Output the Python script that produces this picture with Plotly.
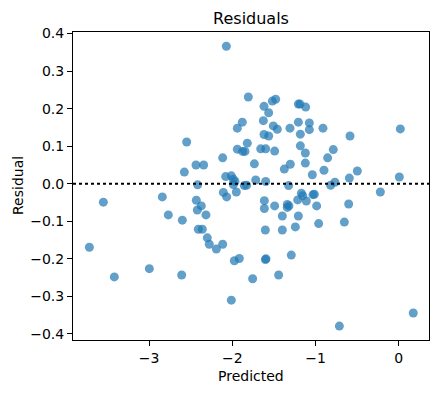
import plotly.graph_objects as go

predicted = [
    -2.072, -1.808, -1.619, -1.519, -1.479, -1.563, -1.206, -1.186, -1.118, -1.627,
    -1.880, -1.940, -1.507, -1.459, -1.563, -1.619, -1.307, -1.206, -1.074, -1.074,
    -0.910, -1.182, -0.585, 0.020, -2.549, -1.820, -1.940, -1.876, -1.848, -1.659,
    -1.599, -1.491, -1.182, -1.122, -0.786, -2.116, -1.735, -2.437, -2.345, -1.303,
    -1.122, -0.854, -1.375, -1.038, -0.898, -0.497, -2.577, -2.080, -2.012, -1.988,
    -1.719, -0.593, 0.008, -2.417, -1.988, -1.856, -1.599, -1.323, -0.818, -0.766,
    -3.551, -2.842, -2.108, -2.068, -1.952, -0.220, -2.433, -2.373, -2.421, -2.317,
    -2.770, -2.601, -1.615, -1.615, -1.491, -1.339, -1.339, -1.214, -1.170, -1.154,
    -1.110, -1.030, -0.986, -1.399, -1.206, -0.601, -0.653, -0.962, -2.409, -2.361,
    -1.603, -1.399, -1.242, -2.301, -2.277, -2.192, -2.116, -3.719, -1.976, -1.916,
    -1.603, -1.291, -2.998, -3.419, -2.609, -1.756, -1.443, -2.012, -0.713, 0.176,
    -1.595, -1.014, -1.319, -1.968, -1.828,
]
residual = [
    0.366, 0.231, 0.206, 0.220, 0.225, 0.189, 0.212, 0.212, 0.204, 0.168,
    0.164, 0.148, 0.154, 0.145, 0.127, 0.131, 0.148, 0.164, 0.162, 0.144,
    0.148, 0.132, 0.127, 0.146, 0.111, 0.108, 0.092, 0.086, 0.086, 0.093,
    0.093, 0.087, 0.101, 0.082, 0.091, 0.069, 0.053, 0.050, 0.050, 0.052,
    0.055, 0.069, 0.039, 0.024, 0.036, 0.034, 0.031, 0.019, 0.021, 0.012,
    0.010, 0.015, 0.018, -0.003, -0.002, -0.005, 0.006, -0.005, -0.004, 0.004,
    -0.049, -0.035, -0.023, -0.035, -0.022, -0.022, -0.044, -0.059, -0.070, -0.083,
    -0.083, -0.097, -0.045, -0.066, -0.059, -0.055, -0.063, -0.043, -0.025, -0.032,
    -0.046, -0.029, -0.059, -0.086, -0.086, -0.054, -0.102, -0.106, -0.121, -0.121,
    -0.123, -0.123, -0.115, -0.144, -0.161, -0.174, -0.161, -0.169, -0.205, -0.199,
    -0.202, -0.190, -0.226, -0.248, -0.243, -0.253, -0.243, -0.310, -0.379, -0.344,
    -0.200, -0.028, -0.059, 0.006, -0.004,
]

x_ticks = [-3, -2, -1, 0]
y_ticks = [0.4, 0.3, 0.2, 0.1, 0.0, -0.1, -0.2, -0.3, -0.4]

FONT = "DejaVu Sans"

fig = go.Figure()
fig.add_trace(go.Scatter(
    x=predicted, y=residual, mode="markers",
    marker=dict(color="#1f77b4", opacity=0.7, size=9, line=dict(width=0)),
    showlegend=False, hoverinfo="skip",
))

fig.add_shape(type="line", xref="paper", yref="y", x0=0, x1=1, y0=0, y1=0,
              line=dict(color="black", width=2, dash="dot"))

axis_common = dict(
    showline=True, linecolor="black", linewidth=1, mirror=True,
    ticks="outside", ticklen=5, tickwidth=1, tickcolor="black",
    showgrid=False, zeroline=False,
    tickfont=dict(family=FONT, size=14, color="black"),
)

fig.update_layout(
    width=439, height=393,
    margin=dict(l=73, r=10, t=32, b=53),
    paper_bgcolor="white", plot_bgcolor="white",
    font=dict(family=FONT, color="black"),
    title=dict(text="Residuals", x=0.5, xref="paper", y=1 - 18 / 393,
               yref="container", xanchor="center", yanchor="middle",
               font=dict(family=FONT, size=16, color="black")),
    xaxis=dict(range=[-3.916, 0.365], tickvals=x_ticks, **axis_common),
    yaxis=dict(range=[-0.416, 0.404], tickvals=y_ticks, tickformat=".1f", **axis_common),
    annotations=[
        dict(text="Predicted", xref="paper", yref="paper", x=0.5, y=-(376 - 340) / 308,
             xanchor="center", yanchor="middle", showarrow=False,
             font=dict(family=FONT, size=14, color="black")),
        dict(text="Residual", xref="paper", yref="paper", x=-(73 - 18) / 356, y=0.5,
             xanchor="center", yanchor="middle", showarrow=False, textangle=-90,
             font=dict(family=FONT, size=14, color="black")),
    ],
)

fig.write_html("out.html", config={"displayModeBar": False},
               post_script="document.body.style.margin='0';")
